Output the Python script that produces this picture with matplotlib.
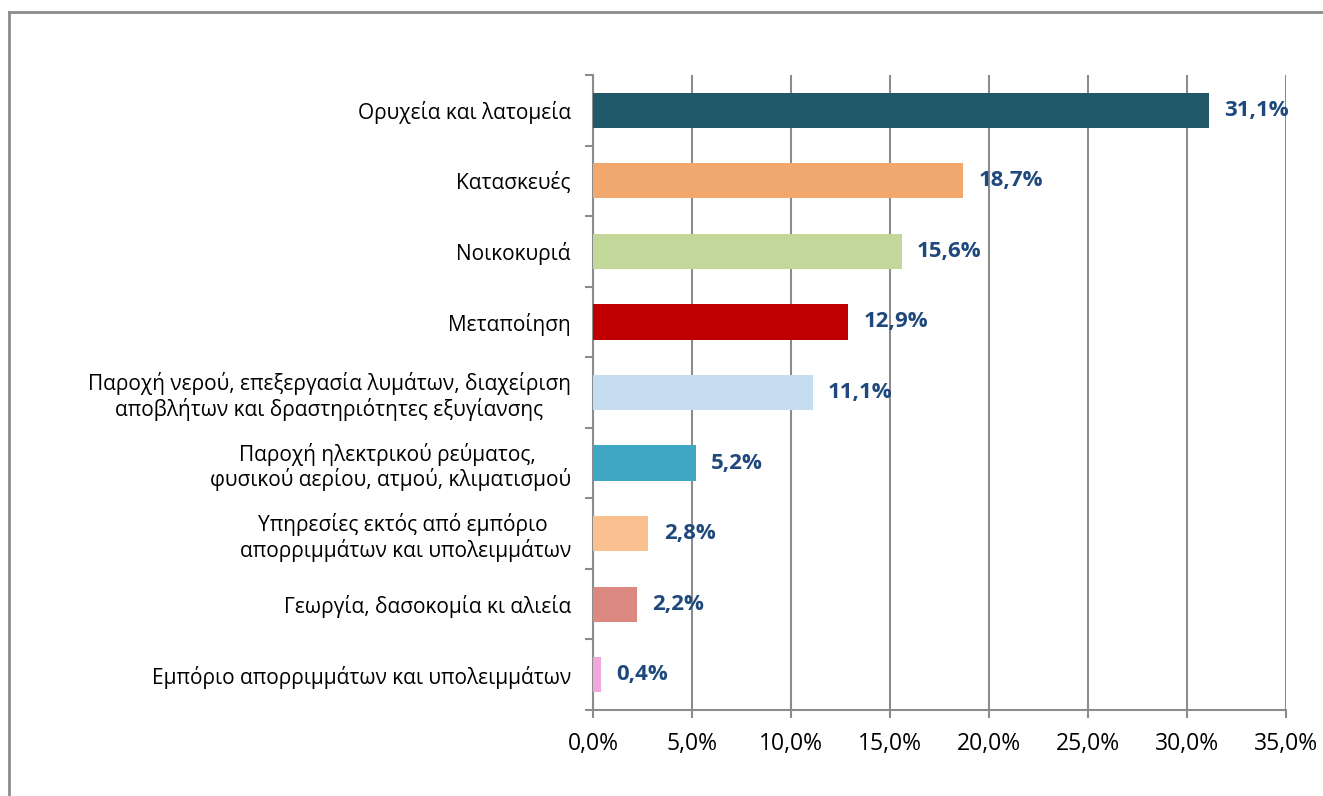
import matplotlib.pyplot as plt
import numpy as np
from matplotlib.lines import Line2D

plt.rcParams['font.family'] = ['Open Sans', 'DejaVu Sans']

# ----------------------------
# Data
# ----------------------------
categories = [
    "Ορυχεία και λατομεία",
    "Κατασκευές",
    "Νοικοκυριά",
    "Μεταποίηση",
    "Παροχή νερού, επεξεργασία λυμάτων, διαχείριση\nαποβλήτων και δραστηριότητες εξυγίανσης",
    "Παροχή ηλεκτρικού ρεύματος, \nφυσικού αερίου, ατμού, κλιματισμού",
    "Υπηρεσίες εκτός από εμπόριο \nαπορριμμάτων και υπολειμμάτων",
    "Γεωργία, δασοκομία κι αλιεία",
    "Εμπόριο απορριμμάτων και υπολειμμάτων",
]
shares = [31.1, 18.7, 15.6, 12.9, 11.1, 5.2, 2.8, 2.2, 0.4]
colors = ['#215968', '#F0A86E', '#C4D79B', '#C00000', '#C6DDF1',
          '#3FA7C4', '#FAC090', '#DA8880', '#F2A7DA']

# ----------------------------
# Figure
# ----------------------------
fig = plt.figure(figsize=(13.23, 7.96), dpi=100)
ax = fig.add_axes([593 / 1323, 1 - 710 / 796, (1286 - 593) / 1323, (710 - 75) / 796])

y = np.arange(len(categories))
ax.barh(y, shares, height=0.5, color=colors, zorder=3)

ax.set_xlim(0, 35)
ax.set_ylim(len(categories) - 0.5, -0.5)

grid_c = '#8C8C8C'
ax.set_xticks(np.arange(0, 36, 5))
ax.set_xticklabels([f"{v:.1f}%".replace('.', ',') for v in np.arange(0, 36, 5)])
ax.xaxis.grid(True, color=grid_c, linewidth=1.5, zorder=0)
ax.tick_params(axis='x', length=6, width=1.5, color=grid_c, pad=10,
               labelsize=16.5, labelcolor='black')

ax.set_yticks(y)
ax.set_yticklabels(categories, multialignment='center', linespacing=1.15)
ax.set_yticks(np.arange(-0.5, len(categories), 1), minor=True)
ax.tick_params(axis='y', which='major', length=0, pad=16, labelsize=15)
ax.tick_params(axis='y', which='minor', length=6, width=1.5, color=grid_c)

for side in ['top', 'right']:
    ax.spines[side].set_visible(False)
for side in ['left', 'bottom']:
    ax.spines[side].set_color(grid_c)
    ax.spines[side].set_linewidth(1.5)

for yi, v in zip(y, shares):
    ax.annotate(f"{v:.1f}%".replace('.', ','), (v, yi), xytext=(11, 0),
                textcoords='offset points', va='center', ha='left',
                fontsize=16, fontweight='bold', color='#1F497D')

# outer frame
fig.add_artist(Line2D([9 / 1323, 9 / 1323], [0, 1 - 12 / 796],
                      transform=fig.transFigure, color='#8C8C8C', linewidth=2))
fig.add_artist(Line2D([9 / 1323, 1], [1 - 12 / 796, 1 - 12 / 796],
                      transform=fig.transFigure, color='#8C8C8C', linewidth=2))

fig.savefig('out.png', dpi=100)
